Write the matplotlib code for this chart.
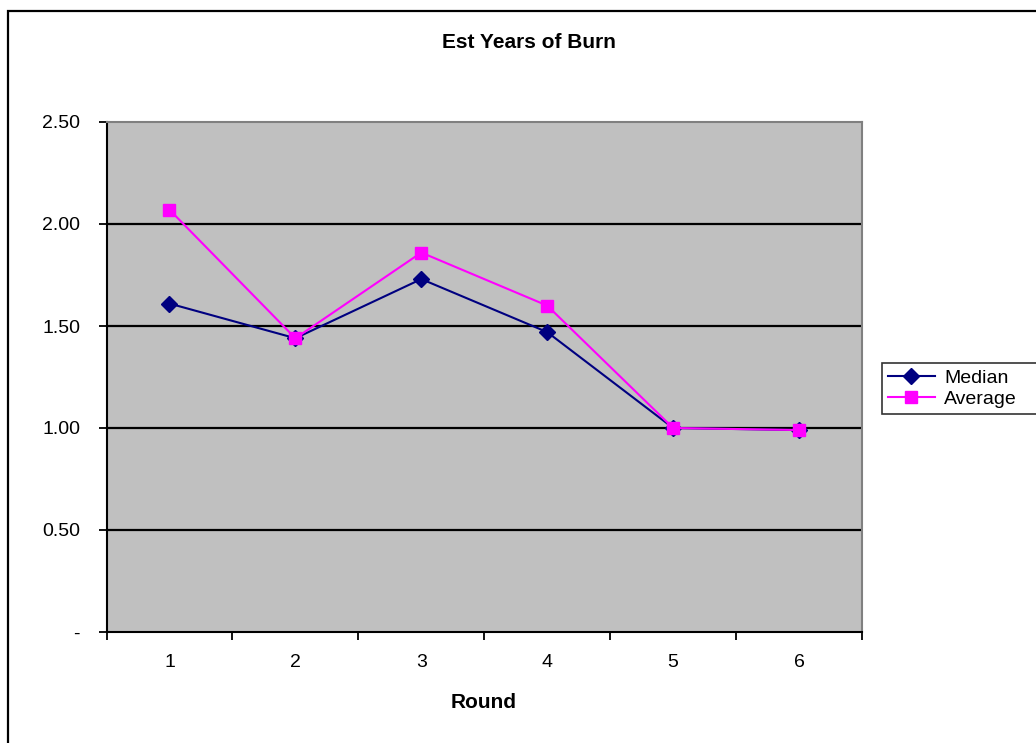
import matplotlib
matplotlib.use("Agg")
import matplotlib.pyplot as plt
from matplotlib.patches import Rectangle

plt.rcParams['font.family'] = ['Liberation Sans', 'DejaVu Sans']

# === Données ===
rounds = [1, 2, 3, 4, 5, 6]
median = [1.61, 1.44, 1.73, 1.47, 1.00, 0.99]
average = [2.07, 1.44, 1.86, 1.60, 1.00, 0.99]
y_ticks = [0, 0.5, 1.0, 1.5, 2.0, 2.5]
y_labels = ["-", "0.50", "1.00", "1.50", "2.00", "2.50"]

W, H = 1036, 743
fig = plt.figure(figsize=(W / 100, H / 100), dpi=100)

# cadre du graphique (coupé à droite et en bas)
fig.patches.append(Rectangle((8 / W, -0.2), 2.0, (H - 11) / H + 0.2,
                             transform=fig.transFigure, fill=False,
                             edgecolor="black", lw=1.6))

ax = fig.add_axes([106.5 / W, (H - 632) / H, (862 - 106.5) / W, 510 / H])
ax.set_facecolor("#C0C0C0")

ax.plot(rounds, median, color="#000080", lw=1.5, marker="D", ms=8, label="Median", zorder=3)
ax.plot(rounds, average, color="#FF00FF", lw=1.5, marker="s", ms=8.5, label="Average", zorder=4)

ax.set_xlim(0.5, 6.5)
ax.set_ylim(0, 2.5)
ax.set_yticks(y_ticks)
ax.set_yticklabels(y_labels, fontsize=14)
ax.set_xticks(rounds)
ax.set_xticklabels([str(r) for r in rounds], fontsize=14)
ax.set_xticks([r - 0.5 for r in rounds] + [6.5], minor=True)
ax.tick_params(axis="x", which="major", length=0, pad=16)
ax.tick_params(axis="x", which="minor", length=6, width=1.3, direction="out")
ax.tick_params(axis="y", length=6, width=1.3, direction="out", pad=13)

for y in y_ticks[1:-1]:
    ax.axhline(y, color="black", lw=1.6, zorder=1)

for s in ["top", "right"]:
    ax.spines[s].set_color("#808080")
    ax.spines[s].set_linewidth(1.5)
for s in ["left", "bottom"]:
    ax.spines[s].set_color("black")
    ax.spines[s].set_linewidth(1.5)

fig.text(529 / W, 1 - 43 / H, "Est Years of Burn", ha="center", va="center",
         fontsize=15, fontweight="bold")
fig.text(484 / W, 1 - 703 / H, "Round", ha="center", va="center",
         fontsize=15, fontweight="bold")

# légende coupée par le bord droit
leg = fig.legend(loc="lower left", bbox_to_anchor=(882 / W, (H - 414) / H, 200 / W, 0),
                 mode="expand", fontsize=14, frameon=True, fancybox=False,
                 handlelength=2.4, borderpad=0.3, labelspacing=0.2,
                 handletextpad=0.5, borderaxespad=0)
leg.get_frame().set_edgecolor("black")
leg.get_frame().set_linewidth(1.2)

fig.savefig("out.png", dpi=100)
